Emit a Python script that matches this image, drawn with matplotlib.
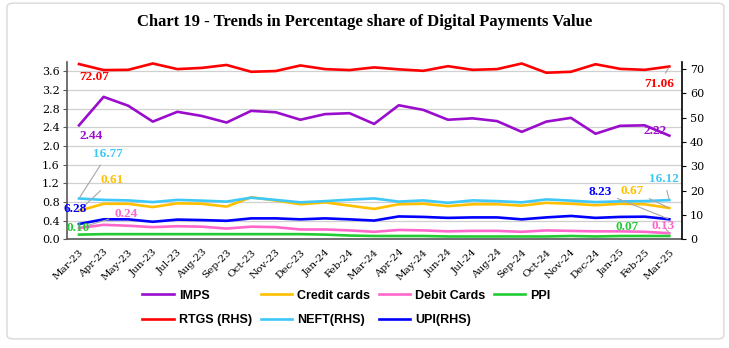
import matplotlib.pyplot as plt
from matplotlib.patches import FancyBboxPatch

months = ["Mar-23", "Apr-23", "May-23", "Jun-23", "Jul-23", "Aug-23", "Sep-23",
          "Oct-23", "Nov-23", "Dec-23", "Jan-24", "Feb-24", "Mar-24", "Apr-24",
          "May-24", "Jun-24", "Jul-24", "Aug-24", "Sep-24", "Oct-24", "Nov-24",
          "Dec-24", "Jan-25", "Feb-25", "Mar-25"]

# left axis (per cent)
imps = [2.44, 3.05, 2.86, 2.52, 2.73, 2.64, 2.50, 2.75, 2.72, 2.56, 2.68, 2.70, 2.47,
        2.87, 2.77, 2.56, 2.59, 2.53, 2.30, 2.52, 2.60, 2.26, 2.43, 2.44, 2.22]
credit_cards = [0.61, 0.76, 0.76, 0.69, 0.77, 0.76, 0.70, 0.90, 0.83, 0.75, 0.79, 0.72, 0.65,
                0.75, 0.76, 0.71, 0.75, 0.75, 0.72, 0.78, 0.76, 0.73, 0.76, 0.75, 0.67]
debit_cards = [0.24, 0.31, 0.29, 0.26, 0.28, 0.27, 0.23, 0.27, 0.26, 0.21, 0.21, 0.19, 0.16,
               0.20, 0.19, 0.17, 0.18, 0.18, 0.16, 0.19, 0.18, 0.17, 0.17, 0.16, 0.13]
ppi = [0.10, 0.11, 0.11, 0.11, 0.11, 0.11, 0.11, 0.11, 0.11, 0.11, 0.10, 0.08, 0.07,
       0.07, 0.07, 0.06, 0.06, 0.06, 0.06, 0.06, 0.07, 0.06, 0.07, 0.07, 0.07]

# right axis (per cent)
rtgs = [72.07, 69.6, 69.7, 72.3, 70.0, 70.5, 71.7, 68.9, 69.2, 71.5, 70.0, 69.6, 70.7,
        69.9, 69.3, 71.2, 69.7, 70.0, 72.3, 68.5, 68.9, 72.0, 70.1, 69.7, 71.06]
neft = [16.77, 16.2, 16.0, 15.3, 16.2, 15.9, 15.5, 17.1, 16.2, 15.2, 15.7, 16.3, 16.8,
        15.5, 16.0, 15.0, 16.0, 15.7, 15.2, 16.4, 15.9, 15.3, 15.6, 15.7, 16.12]
upi = [6.28, 8.2, 8.2, 7.2, 8.1, 7.9, 7.6, 8.6, 8.6, 8.2, 8.6, 8.2, 7.7,
       9.4, 9.2, 8.8, 9.0, 9.0, 8.2, 9.0, 9.6, 8.8, 9.2, 9.3, 8.23]

left_ticks = [0.0, 0.4, 0.8, 1.2, 1.6, 2.0, 2.4, 2.8, 3.2, 3.6]
right_ticks = [0, 10, 20, 30, 40, 50, 60, 70]

C_IMPS = "#9A0DCC"
C_CC = "#FFC000"
C_DC = "#FF66CC"
C_PPI = "#22CC33"
C_RTGS = "#FF0000"
C_NEFT = "#3EC8F8"
C_UPI = "#0000FF"

SERIF = ["DejaVu Serif"]
LEG_FONT = ["Liberation Sans", "DejaVu Sans"]


def main():
    fig = plt.figure(figsize=(7.29, 3.48), dpi=100)
    ax = fig.add_axes([0.0915, 0.3124, 0.8435, 0.5086])
    ax2 = ax.twinx()

    x = list(range(len(months)))
    lw = 1.9
    l_imps, = ax.plot(x, imps, color=C_IMPS, lw=lw, label="IMPS")
    l_cc, = ax.plot(x, credit_cards, color=C_CC, lw=lw, label="Credit cards")
    l_dc, = ax.plot(x, debit_cards, color=C_DC, lw=lw, label="Debit Cards")
    l_ppi, = ax.plot(x, ppi, color=C_PPI, lw=lw, label="PPI")
    l_rtgs, = ax2.plot(x, rtgs, color=C_RTGS, lw=lw, label="RTGS (RHS)")
    l_neft, = ax2.plot(x, neft, color=C_NEFT, lw=lw, label="NEFT(RHS)")
    l_upi, = ax2.plot(x, upi, color=C_UPI, lw=lw, label="UPI(RHS)")

    ax.set_xlim(-0.5, len(months) - 0.5)
    ax.set_ylim(0, 3.79)
    ax2.set_ylim(0, 72.8)

    ax.set_yticks(left_ticks)
    ax.set_yticklabels([f"{t:.1f}" for t in left_ticks], family=SERIF, fontsize=8)
    ax2.set_yticks(right_ticks)
    ax2.set_yticklabels([str(t) for t in right_ticks], family=SERIF, fontsize=8)
    ax.set_xticks(x)
    ax.set_xticklabels(months, rotation=45, ha="right", rotation_mode="anchor",
                       family=SERIF, fontsize=7.5)
    ax.tick_params(axis="x", length=0, pad=6)
    ax.tick_params(axis="y", length=3, color="#595959", pad=2)
    ax2.tick_params(axis="y", length=3, color="black", pad=3)

    ax.grid(axis="y", color="#D0D0D0", lw=0.9)
    ax.set_axisbelow(True)
    for a in (ax, ax2):
        a.spines["top"].set_visible(False)
    ax2.spines["left"].set_visible(False)
    ax2.spines["bottom"].set_visible(False)
    ax.spines["right"].set_visible(False)
    ax.spines["left"].set_color("#595959")
    ax.spines["bottom"].set_color("#595959")
    ax2.spines["right"].set_color("black")
    ax.spines["left"].set_linewidth(1.2)
    ax.spines["bottom"].set_linewidth(1.2)
    ax2.spines["right"].set_linewidth(1.2)

    # data labels: (text, colour, point, text pos, axis of point, leader)
    L, R = ax.transData, ax2.transData
    labels = [
        ("72.07", C_RTGS, (0, rtgs[0]), (0.61, 66.8), R, False),
        ("2.44", C_IMPS, (0, imps[0]), (0.49, 2.21), L, False),
        ("16.77", C_NEFT, (0, neft[0]), (1.16, 35.1), R, True),
        ("0.61", C_CC, (0, credit_cards[0]), (1.34, 1.27), L, True),
        ("6.28", C_UPI, (0, upi[0]), (-0.16, 12.45), R, False),
        ("0.24", C_DC, (0, debit_cards[0]), (1.91, 0.54), L, True),
        ("0.10", C_PPI, (0, ppi[0]), (-0.02, 0.24), L, False),
        ("71.06", C_RTGS, (24, rtgs[-1]), (23.58, 63.7), R, True),
        ("2.22", C_IMPS, (24, imps[-1]), (23.43, 2.32), L, False),
        ("16.12", C_NEFT, (24, neft[-1]), (23.78, 24.8), R, True),
        ("8.23", C_UPI, (24, upi[-1]), (21.2, 19.6), R, True),
        ("0.67", C_CC, (24, credit_cards[-1]), (22.5, 1.04), L, True),
        ("0.07", C_PPI, (24, ppi[-1]), (22.27, 0.27), L, False),
        ("0.13", C_DC, (24, debit_cards[-1]), (23.76, 0.29), L, True),
    ]
    for txt, col, pt, pos, tr, leader in labels:
        kw = {}
        if leader:
            kw["arrowprops"] = dict(arrowstyle="-", color="#A6A6A6", lw=0.8,
                                    shrinkA=2, shrinkB=1)
        ax2.annotate(txt, xy=pt, xycoords=tr, xytext=pos, textcoords=tr,
                     color=col, fontsize=9.5, fontweight="bold",
                     family=["Liberation Serif"], ha="center", va="center",
                     zorder=5, **kw)

    handles = [l_imps, l_rtgs, l_cc, l_neft, l_dc, l_upi, l_ppi]
    fig.legend(handles, [h.get_label() for h in handles], ncol=4,
               loc="center left", bbox_to_anchor=(0.18, 0.115),
               frameon=False, prop=dict(family=LEG_FONT, weight="bold", size=9),
               handlelength=2.5, handletextpad=0.4, columnspacing=0.7,
               labelspacing=1.0)

    fig.text(0.5, 0.937, "Chart 19 - Trends in Percentage share of Digital Payments Value",
             ha="center", va="center", fontsize=12, fontweight="bold",
             family=["Liberation Serif"])

    border = FancyBboxPatch((0.0096, 0.026), 0.9834, 0.965,
                            boxstyle="round,pad=0,rounding_size=0.01",
                            transform=fig.transFigure, fill=False,
                            edgecolor="#D9D9D9", lw=1.0)
    fig.patches.append(border)

    plt.savefig("out.png", dpi=100)
    plt.close(fig)


if __name__ == "__main__":
    main()
